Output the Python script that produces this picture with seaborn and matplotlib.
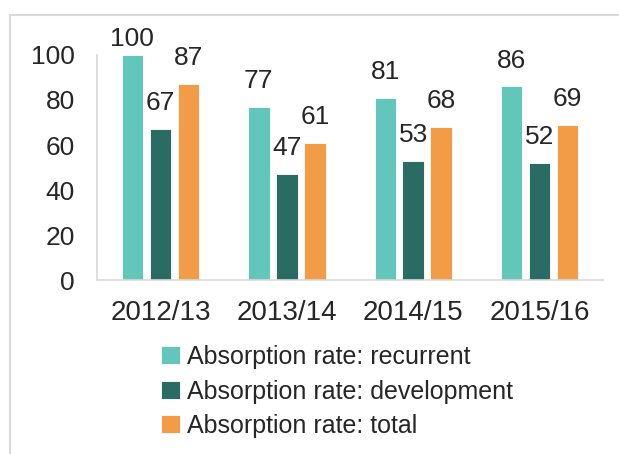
import pandas as pd
import matplotlib
matplotlib.use('Agg')
import matplotlib.pyplot as plt
import seaborn as sns
from matplotlib.lines import Line2D

# data
years = ['2012/13', '2013/14', '2014/15', '2015/16']
recurrent = [100, 77, 81, 86]
development = [67, 47, 53, 52]
total = [87, 61, 68, 69]
series = ['Absorption rate: recurrent', 'Absorption rate: development', 'Absorption rate: total']
colours = ['#62C6BA', '#2A6B63', '#F39C47']

df = pd.DataFrame({'year': years * 3,
                   'value': recurrent + development + total,
                   'series': [series[0]] * 4 + [series[1]] * 4 + [series[2]] * 4})

sns.set_style('white')
plt.rcParams['font.family'] = ['Liberation Sans', 'DejaVu Sans']

fig = plt.figure(figsize=(6.19, 4.54), dpi=100)
ax = fig.add_axes([0.157, 0.383, 0.817, 0.496])

sns.barplot(data=df, x='year', y='value', hue='series', palette=colours,
            width=0.664, gap=0.23, ax=ax, saturation=1, edgecolor='white', linewidth=0.6)

labels = [ax.bar_label(c, fontsize=19, padding=10) for c in ax.containers]
# the 100 label sits closer to its bar (pushed down by the chart top)
labels[0][0].xyann = (0, 3)

ax.set_ylim(0, 100)
ax.set_yticks(range(0, 101, 20))
ax.tick_params(axis='y', labelsize=19, length=0, pad=16)
ax.tick_params(axis='x', labelsize=20, length=0, pad=14)
ax.set_xlabel('')
ax.set_ylabel('')
for s in ['top', 'right']:
    ax.spines[s].set_visible(False)
for s in ['left', 'bottom']:
    ax.spines[s].set_color('#D9D9D9')
    ax.spines[s].set_linewidth(1.2)

ax.legend(loc='upper center', bbox_to_anchor=(0.545, 0.262), bbox_transform=fig.transFigure,
          frameon=False, fontsize=18, handlelength=0.75, handleheight=0.75,
          handletextpad=0.3, labelspacing=0.42, borderaxespad=0)

# outer border like the source frame
fig.add_artist(Line2D([10 / 619, 1], [1 - 15 / 454, 1 - 15 / 454], color='#D9D9D9', lw=1.5))
fig.add_artist(Line2D([10 / 619, 10 / 619], [0, 1 - 15 / 454], color='#D9D9D9', lw=1.5))

fig.savefig('out.png', dpi=100)
